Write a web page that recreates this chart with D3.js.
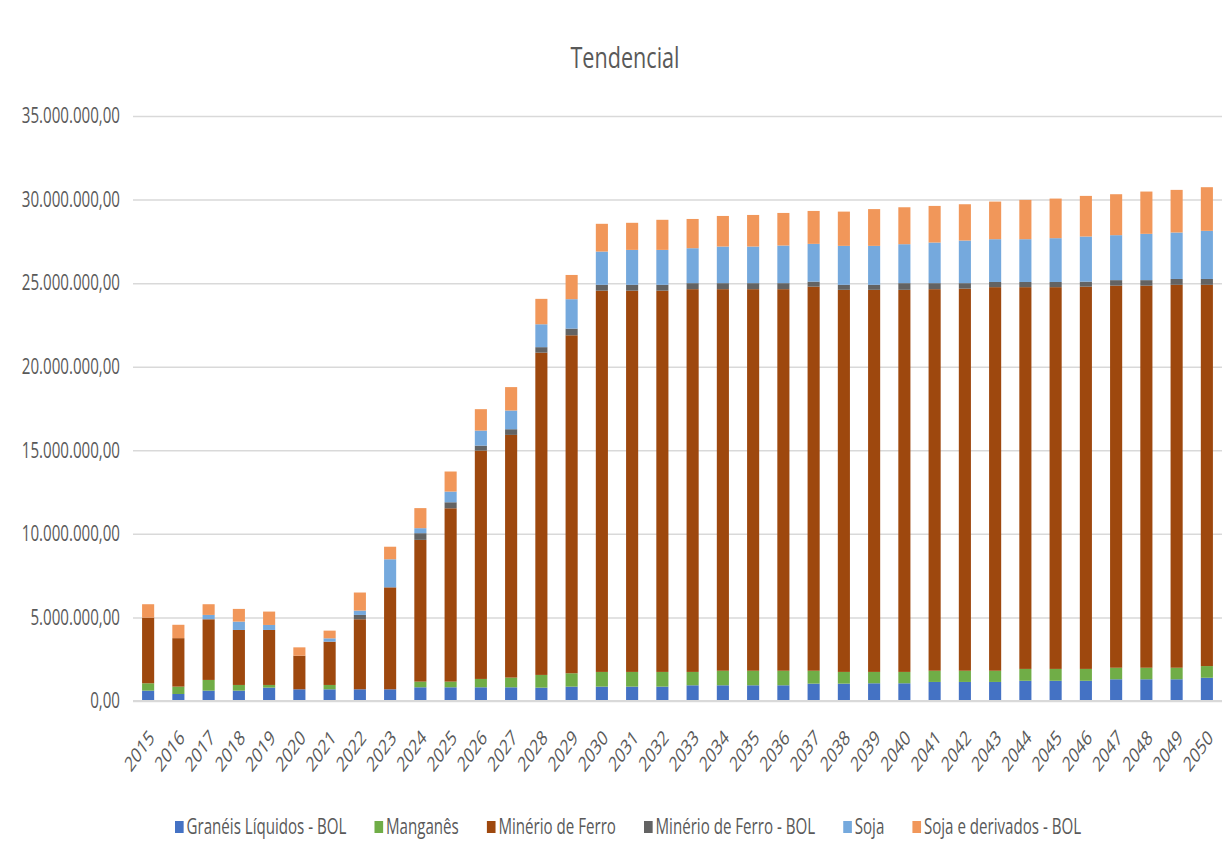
<!DOCTYPE html>
<html>
<head>
<meta charset="utf-8">
<style>
  body { margin: 0; background: #fff; }
  svg { display: block; font-family: "Open Sans", sans-serif; }
</style>
</head>
<body>
<svg id="chart"></svg>
<script src="https://d3js.org/d3.v7.min.js"></script>
<script>

// values in millions (tonnes)
var years = d3.range(2015, 2051).map(String);

var graneis = [0.62, 0.42, 0.62, 0.62, 0.80, 0.70, 0.70, 0.70, 0.70, 0.82, 0.82, 0.82, 0.82, 0.80, 0.86, 0.86, 0.86, 0.86,
  0.94, 0.94, 0.94, 0.94, 1.04, 1.04, 1.06, 1.06, 1.14, 1.14, 1.14, 1.21, 1.21, 1.21, 1.30, 1.30, 1.30, 1.39];
var manganes = [0.44, 0.44, 0.64, 0.34, 0.16, 0, 0.26, 0, 0, 0.34, 0.34, 0.50, 0.58, 0.76, 0.80, 0.88, 0.88, 0.88,
  0.80, 0.87, 0.87, 0.87, 0.77, 0.70, 0.68, 0.68, 0.67, 0.67, 0.67, 0.71, 0.71, 0.71, 0.69, 0.69, 0.69, 0.70];
var minerio = [3.93, 2.90, 3.63, 3.29, 3.29, 2.01, 2.59, 4.19, 6.10, 8.48, 10.37, 13.66, 14.52, 19.28, 20.22, 22.81, 22.81, 22.81,
  22.90, 22.83, 22.83, 22.83, 22.98, 22.86, 22.86, 22.86, 22.83, 22.86, 22.95, 22.84, 22.84, 22.87, 22.86, 22.86, 22.91, 22.81];
var minerioBol = [0, 0, 0, 0, 0, 0, 0, 0.26, 0, 0.40, 0.36, 0.30, 0.34, 0.33, 0.40, 0.35, 0.35, 0.35,
  0.36, 0.36, 0.36, 0.36, 0.30, 0.30, 0.30, 0.40, 0.36, 0.33, 0.31, 0.31, 0.31, 0.30, 0.33, 0.33, 0.35, 0.35];
var soja = [0, 0, 0.26, 0.50, 0.30, 0, 0.20, 0.26, 1.68, 0.30, 0.64, 0.90, 1.12, 1.37, 1.76, 1.99, 2.09, 2.09,
  2.09, 2.19, 2.19, 2.25, 2.26, 2.33, 2.33, 2.33, 2.43, 2.55, 2.56, 2.56, 2.62, 2.70, 2.69, 2.77, 2.78, 2.88];
var sojaBol = [0.80, 0.80, 0.64, 0.76, 0.80, 0.50, 0.46, 1.08, 0.75, 1.20, 1.20, 1.28, 1.40, 1.52, 1.45, 1.66, 1.62, 1.80,
  1.75, 1.83, 1.89, 1.95, 1.97, 2.05, 2.20, 2.21, 2.19, 2.17, 2.25, 2.35, 2.37, 2.43, 2.45, 2.53, 2.55, 2.61];

var seriesNames = ["Granéis Líquidos - BOL", "Manganês", "Minério de Ferro", "Minério de Ferro - BOL", "Soja", "Soja e derivados - BOL"];
var seriesValues = [graneis, manganes, minerio, minerioBol, soja, sojaBol];
var colors = ["#4472C4", "#70AD47", "#9E480E", "#636363", "#75A9DD", "#F1975A"];

var yTicks = [0, 5, 10, 15, 20, 25, 30, 35];

// the picture is squeezed horizontally, so draw wider and squash the whole svg
var SX = 0.72,
    W = 1230, H = 865;

var svg = d3.select("#chart")
    .attr("width", W)
    .attr("height", H)
    .attr("viewBox", "0 0 " + (W / SX) + " " + H)
    .attr("preserveAspectRatio", "none");

var table = years.map(function(yr, i) {
  var row = {year: yr};
  seriesNames.forEach(function(s, j) { row[s] = seriesValues[j][i]; });
  return row;
});

var x = d3.scaleBand()
    .domain(years)
    .range([133 / SX, 1222 / SX])
    .paddingInner(0.6)
    .paddingOuter(0.3);

var y = d3.scaleLinear()
    .domain([0, 35])
    .range([701, 116]);

var color = d3.scaleOrdinal().domain(seriesNames).range(colors);

var br = d3.formatLocale({decimal: ",", thousands: ".", grouping: [3], currency: ["", ""]});
var fmt = br.format(",.2f");

// title
svg.append("text")
    .attr("x", 625 / SX)
    .attr("y", 68)
    .attr("text-anchor", "middle")
    .attr("font-size", 30)
    .attr("fill", "#595959")
    .text("Tendencial");

// grid + y labels
var yAxis = svg.append("g")
    .attr("transform", "translate(" + (133 / SX) + ",0)")
    .call(d3.axisLeft(y).tickValues(yTicks).tickSize(-(1222 - 133) / SX).tickPadding(13 / SX)
      .tickFormat(function(d) { return fmt(d * 1e6); }));
yAxis.select(".domain").remove();
yAxis.selectAll(".tick line").attr("stroke", "#d9d9d9").attr("stroke-width", 1.5);
yAxis.selectAll(".tick text")
    .attr("fill", "#595959")
    .attr("font-size", 21)
    .attr("font-family", "Open Sans, sans-serif");

// bars
var stacked = d3.stack().keys(seriesNames)(table);

svg.append("g")
  .selectAll("g")
  .data(stacked)
  .enter().append("g")
    .attr("fill", function(d) { return color(d.key); })
  .selectAll("rect")
  .data(function(d) { return d; })
  .enter().append("rect")
    .attr("x", function(d) { return x(d.data.year); })
    .attr("width", x.bandwidth())
    .attr("y", function(d) { return y(d[1]); })
    .attr("height", function(d) { return y(d[0]) - y(d[1]); });

// baseline
svg.append("line")
    .attr("x1", 133 / SX).attr("x2", 1222 / SX)
    .attr("y1", y(0)).attr("y2", y(0))
    .attr("stroke", "#d9d9d9")
    .attr("stroke-width", 2);

// x labels
svg.append("g")
  .selectAll("text")
  .data(years)
  .enter().append("text")
    .attr("transform", function(d) {
      return "translate(" + (x(d) + x.bandwidth() / 2 + 10) + ",739) rotate(-45)";
    })
    .attr("text-anchor", "end")
    .attr("font-size", 21)
    .attr("fill", "#595959")
    .text(function(d) { return d; });

// legend
var legend = svg.append("g").attr("transform", "translate(" + (175 / SX) + ",827)");
var lx = 0;
seriesNames.forEach(function(name, i) {
  var item = legend.append("g").attr("transform", "translate(" + lx + ",0)");
  item.append("rect")
      .attr("x", 0).attr("y", -6)
      .attr("width", 12).attr("height", 12)
      .attr("fill", colors[i]);
  var t = item.append("text")
      .attr("x", 16)
      .attr("y", 7)
      .attr("font-size", 21)
      .attr("fill", "#595959")
      .text(name);
  lx += 16 + t.node().getComputedTextLength() + 39;
});

</script>
</body>
</html>
